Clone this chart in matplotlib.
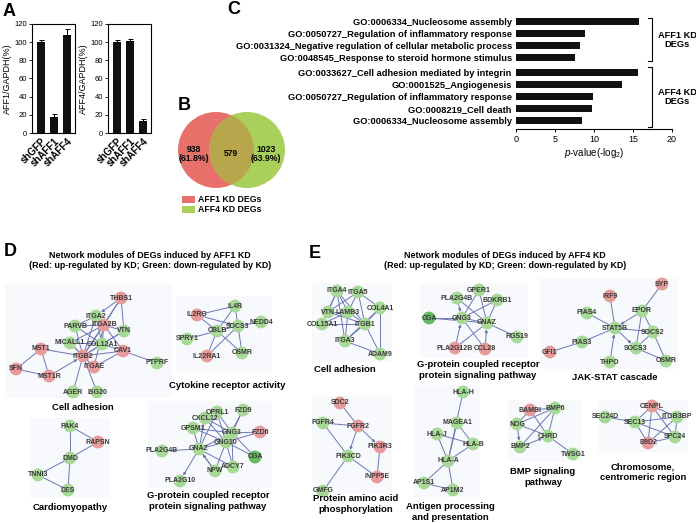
import matplotlib
matplotlib.use("Agg")
import matplotlib.pyplot as plt
from matplotlib.patches import Circle, Rectangle

plt.rcParams['font.family'] = ['Liberation Sans', 'DejaVu Sans']
plt.rcParams['mathtext.fontset'] = 'custom'
plt.rcParams['mathtext.rm'] = 'Liberation Sans'
plt.rcParams['mathtext.it'] = 'Liberation Sans:italic'
plt.rcParams['mathtext.bf'] = 'Liberation Sans:bold'

# ---------------- data ----------------
samples = ['shGFP', 'shAFF1', 'shAFF4']
aff1_vals = [100, 18, 108]
aff1_err = [2, 3, 6]
aff4_vals = [100, 101, 13]
aff4_err = [2, 3, 2]

venn_only_aff1 = '938\n(61.8%)'
venn_shared = '579'
venn_only_aff4 = '1023\n(63.9%)'
venn_names = ['AFF1 KD DEGs', 'AFF4 KD DEGs']

go_aff1 = ['GO:0006334_Nucleosome assembly',
           'GO:0050727_Regulation of inflammatory response',
           'GO:0031324_Negative regulation of cellular metabolic process',
           'GO:0048545_Response to steroid hormone stimulus']
p_aff1 = [15.8, 8.9, 8.2, 7.6]
go_aff4 = ['GO:0033627_Cell adhesion mediated by integrin',
           'GO:0001525_Angiogenesis',
           'GO:0050727_Regulation of inflammatory response',
           'GO:0008219_Cell death',
           'GO:0006334_Nucleosome assembly']
p_aff4 = [15.7, 13.6, 9.9, 9.7, 8.5]
go_ticks = [0, 5, 10, 15, 20]

# ---- network modules: genes, regulation, layout, edges ----
d_adh_genes = ['THBS1', 'ITGA2', 'ITGA2B', 'PARVB', 'VTN', 'MICALL1', 'COL12A1', 'CAV1',
               'MST1', 'ITGB2', 'ITGAE', 'PTPRF', 'SFN', 'MST1R', 'AGER', 'ISG20']
d_adh_reg = ['up', 'down', 'up', 'down', 'down', 'down', 'down', 'up',
             'up', 'up', 'up', 'down', 'up', 'up', 'down', 'down']
d_adh_x = [121, 96, 104, 75, 124, 70, 102, 123, 41, 83, 94, 157, 16, 49, 73, 97]
d_adh_y = [298, 316, 325, 326, 331, 343, 344, 351, 349, 356, 367, 363, 369, 376, 392, 392]
d_adh_edges = [('THBS1', 'ITGA2B'), ('THBS1', 'VTN'), ('THBS1', 'ITGB2'),
               ('ITGA2', 'ITGA2B'), ('ITGA2', 'ITGB2'), ('ITGA2', 'COL12A1'), ('ITGA2', 'PARVB'),
               ('PARVB', 'ITGA2B'), ('PARVB', 'ITGB2'), ('PARVB', 'COL12A1'),
               ('ITGA2B', 'VTN'), ('ITGA2B', 'ITGB2'), ('ITGA2B', 'CAV1'), ('ITGA2B', 'COL12A1'),
               ('ITGA2B', 'MICALL1'), ('ITGA2B', 'ITGAE'), ('VTN', 'ITGB2'), ('VTN', 'COL12A1'),
               ('MICALL1', 'ITGB2'), ('MICALL1', 'COL12A1'), ('MICALL1', 'ITGAE'),
               ('COL12A1', 'ITGB2'), ('COL12A1', 'CAV1'), ('CAV1', 'ITGB2'), ('CAV1', 'PTPRF'),
               ('CAV1', 'ITGAE'), ('MST1', 'ITGB2'), ('MST1', 'SFN'), ('MST1', 'MST1R'),
               ('SFN', 'MST1R'), ('ITGB2', 'ITGAE'), ('ITGB2', 'AGER'), ('ITGB2', 'ISG20')]
d_adh_arrows = [('THBS1', 'ITGA2'), ('MST1R', 'ITGB2')]

d_cyt_genes = ['IL4R', 'IL2RG', 'NEDD4', 'SOCS3', 'CBLB', 'SPRY1', 'OSMR', 'IL22RA1']
d_cyt_reg = ['down', 'up', 'down', 'down', 'down', 'down', 'down', 'up']
d_cyt_x = [235, 197, 261, 238, 217, 187, 242, 207]
d_cyt_y = [306, 315, 322, 326, 331, 339, 353, 356]
d_cyt_edges = [('IL2RG', 'IL4R'), ('IL2RG', 'CBLB'), ('IL4R', 'SOCS3'), ('IL4R', 'CBLB'),
               ('SOCS3', 'NEDD4'), ('CBLB', 'SOCS3'), ('SPRY1', 'CBLB'), ('CBLB', 'IL22RA1'),
               ('SOCS3', 'IL22RA1'), ('SOCS3', 'OSMR'), ('CBLB', 'OSMR')]
d_cyt_arrows = [('IL2RG', 'SOCS3')]

d_card_genes = ['PAK4', 'RAPSN', 'DMD', 'TNNI3', 'DES']
d_card_reg = ['down', 'up', 'down', 'down', 'down']
d_card_x = [70, 98, 70, 38, 68]
d_card_y = [426, 442, 458, 475, 490]
d_card_edges = [('PAK4', 'DMD'), ('PAK4', 'RAPSN'), ('RAPSN', 'DMD'), ('DMD', 'TNNI3'),
                ('DMD', 'DES'), ('TNNI3', 'DES')]

d_gp_genes = ['OPRL1', 'FZD9', 'CXCL12', 'GPSM1', 'GNG3', 'FZD6', 'GNG10', 'GNAZ',
              'PLA2G4B', 'CGA', 'ADCY7', 'NPW', 'PLA2G10']
d_gp_reg = ['down', 'down', 'down', 'down', 'down', 'up', 'down', 'down',
            'down', 'strong', 'down', 'down', 'down']
d_gp_x = [217, 243, 205, 193, 232, 260, 226, 199, 162, 255, 233, 215, 180]
d_gp_y = [412, 410, 418, 428, 433, 432, 442, 449, 451, 457, 467, 471, 481]
d_gp_edges = [('OPRL1', 'GNG3'), ('OPRL1', 'GNG10'), ('OPRL1', 'GNAZ'), ('FZD9', 'GNG3'),
              ('FZD9', 'GNG10'), ('CXCL12', 'GNAZ'), ('CXCL12', 'GNG3'), ('CXCL12', 'GNG10'),
              ('GPSM1', 'GNAZ'), ('GPSM1', 'GNG3'), ('GPSM1', 'GNG10'), ('GNG3', 'FZD6'),
              ('GNG10', 'FZD6'), ('GNG3', 'GNAZ'), ('GNG10', 'GNAZ'), ('GNAZ', 'PLA2G4B'),
              ('GNAZ', 'NPW'), ('GNAZ', 'ADCY7'), ('GNG3', 'CGA'), ('GNG10', 'CGA'),
              ('GNG3', 'ADCY7'), ('GNG10', 'NPW'), ('GNG10', 'ADCY7')]
d_gp_arrows = [('GNAZ', 'PLA2G10'), ('NPW', 'GNAZ')]

e_adh_genes = ['ITGA4', 'ITGA5', 'VTN', 'LAMB3', 'COL4A1', 'COL15A1', 'ITGB1', 'ITGA3', 'ADAM9']
e_adh_reg = ['down'] * 9
e_adh_x = [337, 358, 328, 348, 380, 322, 365, 345, 380]
e_adh_y = [291, 292, 312, 312, 308, 324, 324, 341, 354]
e_adh_edges = [('ITGA4', 'VTN'), ('ITGA4', 'LAMB3'), ('ITGA4', 'ITGB1'), ('ITGA4', 'ITGA3'),
               ('ITGA5', 'LAMB3'), ('ITGA5', 'ITGB1'), ('ITGA5', 'COL4A1'), ('ITGA5', 'VTN'),
               ('VTN', 'ITGB1'), ('VTN', 'LAMB3'), ('COL15A1', 'ITGB1'), ('COL15A1', 'LAMB3'),
               ('LAMB3', 'ITGB1'), ('LAMB3', 'ITGA3'), ('COL4A1', 'ITGB1'), ('COL4A1', 'ITGA3'),
               ('ITGB1', 'ITGA3'), ('ITGB1', 'ADAM9'), ('ITGA3', 'ADAM9'), ('COL4A1', 'ADAM9')]
e_adh_arrows = [('ITGA4', 'COL15A1')]

e_gp_genes = ['GPER1', 'PLA2G4B', 'BDKRB1', 'CGA', 'GNG3', 'GNAZ', 'RGS19', 'PLA2G12B', 'CCL28']
e_gp_reg = ['down', 'down', 'down', 'strong', 'down', 'down', 'down', 'up', 'up']
e_gp_x = [479, 457, 497, 429, 462, 487, 517, 455, 485]
e_gp_y = [290, 298, 300, 318, 318, 323, 337, 348, 349]
e_gp_edges = [('PLA2G4B', 'GNAZ'), ('GPER1', 'GNG3'), ('GPER1', 'GNAZ'),
              ('BDKRB1', 'GNG3'), ('BDKRB1', 'GNAZ'), ('CGA', 'GNG3'), ('CGA', 'GNAZ'),
              ('GNG3', 'GNAZ'), ('GNAZ', 'RGS19'), ('GNAZ', 'PLA2G12B'), ('GNG3', 'CCL28')]
e_gp_arrows = [('PLA2G4B', 'GNG3'), ('CCL28', 'GNAZ'), ('PLA2G12B', 'GNG3')]

e_jak_genes = ['SYP', 'IRF9', 'EPOR', 'PIAS4', 'STAT5B', 'SOCS2', 'PIAS3', 'SOCS3',
               'GFI1', 'THPO', 'OSMR']
e_jak_reg = ['up', 'up', 'down', 'down', 'down', 'down', 'down', 'down', 'up', 'down', 'down']
e_jak_x = [662, 610, 642, 587, 615, 653, 582, 636, 550, 610, 666]
e_jak_y = [284, 296, 311, 313, 328, 332, 342, 348, 352, 362, 361]
e_jak_edges = [('SYP', 'EPOR'), ('IRF9', 'STAT5B'), ('EPOR', 'SOCS2'), ('EPOR', 'SOCS3'),
               ('PIAS4', 'STAT5B'), ('STAT5B', 'SOCS2'), ('STAT5B', 'PIAS3'),
               ('PIAS3', 'GFI1'), ('SOCS3', 'OSMR'), ('SOCS2', 'OSMR'), ('SOCS2', 'SOCS3')]
e_jak_arrows = [('EPOR', 'STAT5B'), ('STAT5B', 'SOCS3'), ('THPO', 'STAT5B')]

e_pro_genes = ['SDC2', 'FGFR4', 'FGFR2', 'PIK3R3', 'PIK3CD', 'INPP5E', 'GMFG']
e_pro_reg = ['up', 'down', 'up', 'up', 'down', 'up', 'down']
e_pro_x = [340, 323, 358, 380, 348, 377, 323]
e_pro_y = [403, 423, 426, 447, 456, 477, 491]
e_pro_edges = [('SDC2', 'FGFR2'), ('FGFR4', 'FGFR2'), ('FGFR4', 'PIK3CD'),
               ('PIK3CD', 'INPP5E'), ('PIK3R3', 'INPP5E'), ('PIK3CD', 'GMFG')]
e_pro_arrows = [('FGFR2', 'PIK3R3'), ('FGFR2', 'PIK3CD')]

e_ant_genes = ['HLA-H', 'MAGEA1', 'HLA-J', 'HLA-B', 'HLA-A', 'AP1S1', 'AP1M2']
e_ant_reg = ['down'] * 7
e_ant_x = [463, 457, 437, 473, 448, 424, 453]
e_ant_y = [392, 423, 434, 444, 461, 483, 490]
e_ant_edges = [('HLA-H', 'HLA-A'), ('MAGEA1', 'HLA-B'), ('MAGEA1', 'HLA-A'),
               ('HLA-J', 'HLA-B'), ('HLA-J', 'HLA-A'), ('HLA-B', 'HLA-A'),
               ('HLA-A', 'AP1S1'), ('HLA-A', 'AP1M2'), ('AP1S1', 'AP1M2')]
e_ant_arrows = []

e_bmp_genes = ['BAMBI', 'BMP6', 'NOG', 'CHRD', 'BMP2', 'TWSG1']
e_bmp_reg = ['up', 'down', 'down', 'down', 'down', 'down']
e_bmp_x = [530, 555, 517, 548, 520, 573]
e_bmp_y = [410, 408, 424, 436, 447, 454]
e_bmp_edges = [('BAMBI', 'BMP6'), ('BAMBI', 'NOG'), ('BAMBI', 'CHRD'), ('BMP6', 'NOG'),
               ('BMP6', 'CHRD'), ('BMP6', 'BMP2'), ('NOG', 'CHRD'), ('CHRD', 'TWSG1')]
e_bmp_arrows = [('NOG', 'BMP2'), ('BMP2', 'CHRD')]

e_chr_genes = ['CENPL', 'SEC24D', 'SEC13', 'ITGB3BP', 'SPC24', 'B9D2']
e_chr_reg = ['up', 'down', 'down', 'down', 'down', 'up']
e_chr_x = [652, 605, 635, 677, 675, 648]
e_chr_y = [406, 417, 422, 417, 437, 443]
e_chr_edges = [('SEC24D', 'SEC13'), ('SEC13', 'CENPL'), ('SEC13', 'ITGB3BP'),
               ('SEC13', 'SPC24'), ('SEC13', 'B9D2'), ('CENPL', 'ITGB3BP'), ('CENPL', 'SPC24'),
               ('CENPL', 'B9D2'), ('ITGB3BP', 'SPC24'), ('ITGB3BP', 'B9D2'), ('B9D2', 'SPC24')]
e_chr_arrows = []

# ---------------- figure ----------------
W, H = 696, 523
fig = plt.figure(figsize=(W / 100, H / 100), dpi=100)
fig.patch.set_facecolor('white')


def px_axes(x0, y0, x1, y1):
    return fig.add_axes([x0 / W, 1 - y1 / H, (x1 - x0) / W, (y1 - y0) / H])


ov = fig.add_axes([0, 0, 1, 1])
ov.set_xlim(0, W)
ov.set_ylim(H, 0)
ov.axis('off')

# ---- panel A ----
for (x0, x1), vals, errs, ylab in [((32, 75), aff1_vals, aff1_err, 'AFF1/GAPDH(%)'),
                                   ((108, 151), aff4_vals, aff4_err, 'AFF4/GAPDH(%)')]:
    ax = px_axes(x0, 24, x1, 133)
    xs = list(range(len(samples)))
    ax.bar(xs, vals, width=0.64, color='#111111')
    ax.errorbar(xs, vals, yerr=[[0] * len(errs), errs], fmt='none', ecolor='black',
                elinewidth=0.7, capsize=1.8, capthick=0.7)
    ax.set_xlim(-0.69, 2.62)
    ax.set_ylim(0, 120)
    ax.set_yticks(range(0, 121, 20))
    ax.tick_params(axis='y', labelsize=5.5, length=2, width=0.6, pad=1.5)
    ax.set_xticks(xs)
    ax.set_xticklabels(samples, rotation=45, ha='right', rotation_mode='anchor',
                       fontsize=7, fontweight='bold')
    ax.tick_params(axis='x', length=0, pad=2)
    ax.set_ylabel(ylab, fontsize=6.5, labelpad=2)
    for s in ax.spines.values():
        s.set_linewidth(0.8)

# ---- panel B (Venn) ----
RED_V, GREEN_V, OLIVE_V = '#E8706A', '#AAD05C', '#B8A64C'
c_red = Circle((216, 150), 38, fc=RED_V, ec='none', zorder=1)
c_green = Circle((247, 150), 38, fc=GREEN_V, ec='none', zorder=1)
ov.add_patch(c_red)
ov.add_patch(c_green)
c_ov = Circle((216, 150), 38, fc=OLIVE_V, ec='none', zorder=2)
ov.add_patch(c_ov)
c_ov.set_clip_path(c_green)
ov.text(194, 154, venn_only_aff1, ha='center', va='center', fontsize=6.2, fontweight='bold',
        linespacing=1.1, zorder=3)
ov.text(231, 154, venn_shared, ha='center', va='center', fontsize=6.2, fontweight='bold', zorder=3)
ov.text(266, 154, venn_only_aff4, ha='center', va='center', fontsize=6.2, fontweight='bold',
        linespacing=1.1, zorder=3)
for i, (nm, col) in enumerate(zip(venn_names, [RED_V, GREEN_V])):
    yy = 199 + 10.5 * i
    ov.add_patch(Rectangle((182, yy - 3.5), 13, 7, fc=col, ec='none'))
    ov.text(198, yy, nm, ha='left', va='center', fontsize=6.3, fontweight='bold')

# ---- panel C ----
axC = px_axes(516, 14, 672, 129)
ypos = [i for i in range(len(go_aff1))] + [len(go_aff1) + 0.28 + i for i in range(len(go_aff4))]
axC.barh(ypos, p_aff1 + p_aff4, height=0.56, color='#111111')
axC.set_xlim(0, 20)
axC.set_ylim(8.97, -0.6)
axC.set_yticks(ypos)
axC.set_yticklabels(go_aff1 + go_aff4, fontsize=6.7, fontweight='bold')
axC.tick_params(axis='y', length=0, pad=3)
axC.set_xticks(go_ticks)
axC.tick_params(axis='x', labelsize=6.5, length=2.5, width=0.7, pad=1.5)
for s in ['left', 'top', 'right']:
    axC.spines[s].set_visible(False)
axC.spines['bottom'].set_linewidth(0.8)
axC.set_xlabel(r'$\it{p}$-value(-log$_2$)', fontsize=7, labelpad=1.5)
axC.patch.set_alpha(0)
for (ya, yb), lab, ly in [((18, 61), 'AFF1 KD\nDEGs', 40), ((67, 127), 'AFF4 KD\nDEGs', 97)]:
    ov.plot([647.5, 651.7, 651.7, 647.5], [ya, ya, yb, yb], color='black', lw=0.8)
    ov.text(677, ly, lab, ha='center', va='center', fontsize=6.7, fontweight='bold',
            linespacing=1.05)

# ---- panel letters / titles ----
for letter, x, y in [('A', 9, 11), ('B', 184, 105), ('C', 234, 9), ('D', 10, 252), ('E', 315, 253)]:
    ov.text(x, y, letter, ha='center', va='center', fontsize=13, fontweight='bold')
for cx, who in [(150, 'AFF1'), (505, 'AFF4')]:
    ov.text(cx, 256, f'Network modules of DEGs induced by {who} KD', ha='center', va='center',
            fontsize=6.4, fontweight='bold')
    ov.text(cx, 266, '(Red: up-regulated by KD; Green: down-regulated by KD)', ha='center',
            va='center', fontsize=6.4, fontweight='bold')

# ---- networks ----
EDGE = '#6C77B5'
NODE_COL = {'up': '#E8999A', 'down': '#A6D995', 'strong': '#62BA62'}


def draw_module(genes, reg, xs, ys, edges, arrows, label, lx, ly, bg):
    pos = {g: (x, y) for g, x, y in zip(genes, xs, ys)}
    ov.add_patch(Rectangle((bg[0], bg[1]), bg[2] - bg[0], bg[3] - bg[1], fc='#F7F9FC',
                           ec='none', zorder=0))
    for a, b in edges:
        (x0, y0), (x1, y1) = pos[a], pos[b]
        ov.plot([x0, x1], [y0, y1], color=EDGE, lw=0.7, zorder=1)
    for a, b in arrows:
        ov.annotate('', xy=pos[b], xytext=pos[a],
                    arrowprops=dict(arrowstyle='-|>', color=EDGE, lw=0.7, shrinkA=0,
                                    shrinkB=4.6, mutation_scale=4), zorder=1)
    ov.scatter(xs, ys, s=85, c=[NODE_COL[r] for r in reg], edgecolors='none', zorder=2)
    for g, x, y in zip(genes, xs, ys):
        ov.text(x, y, g, ha='center', va='center', fontsize=5.0, fontweight='bold',
                color='#3A3A3A', zorder=3)
    ov.text(lx, ly, label, ha='center', va='center', fontsize=6.8, fontweight='bold',
            linespacing=1.15, zorder=3)


draw_module(d_adh_genes, d_adh_reg, d_adh_x, d_adh_y, d_adh_edges, d_adh_arrows,
            'Cell adhesion', 83, 407, (5, 283, 172, 398))
draw_module(d_cyt_genes, d_cyt_reg, d_cyt_x, d_cyt_y, d_cyt_edges, d_cyt_arrows,
            'Cytokine receptor activity', 227, 385, (176, 296, 272, 372))
draw_module(d_card_genes, d_card_reg, d_card_x, d_card_y, d_card_edges, [],
            'Cardiomyopathy', 70, 508, (30, 418, 110, 498))
draw_module(d_gp_genes, d_gp_reg, d_gp_x, d_gp_y, d_gp_edges, d_gp_arrows,
            'G-protein coupled receptor\nprotein signaling pathway', 208, 501, (148, 401, 272, 488))
draw_module(e_adh_genes, e_adh_reg, e_adh_x, e_adh_y, e_adh_edges, e_adh_arrows,
            'Cell adhesion', 345, 370, (312, 283, 392, 362))
draw_module(e_gp_genes, e_gp_reg, e_gp_x, e_gp_y, e_gp_edges, e_gp_arrows,
            'G-protein coupled receptor\nprotein signaling pathway', 478, 370, (420, 283, 528, 358))
draw_module(e_jak_genes, e_jak_reg, e_jak_x, e_jak_y, e_jak_edges, e_jak_arrows,
            'JAK-STAT cascade', 615, 377, (540, 278, 678, 369))
draw_module(e_pro_genes, e_pro_reg, e_pro_x, e_pro_y, e_pro_edges, e_pro_arrows,
            'Protein amino acid\nphosphorylation', 356, 504, (312, 396, 392, 494))
draw_module(e_ant_genes, e_ant_reg, e_ant_x, e_ant_y, e_ant_edges, e_ant_arrows,
            'Antigen processing\nand presentation', 450, 512, (415, 385, 480, 497))
draw_module(e_bmp_genes, e_bmp_reg, e_bmp_x, e_bmp_y, e_bmp_edges, e_bmp_arrows,
            'BMP signaling\npathway', 543, 477, (508, 400, 582, 462))
draw_module(e_chr_genes, e_chr_reg, e_chr_x, e_chr_y, e_chr_edges, e_chr_arrows,
            'Chromosome,\ncentromeric region', 643, 472, (598, 400, 688, 452))

fig.savefig('out.png', dpi=100, facecolor='white')
